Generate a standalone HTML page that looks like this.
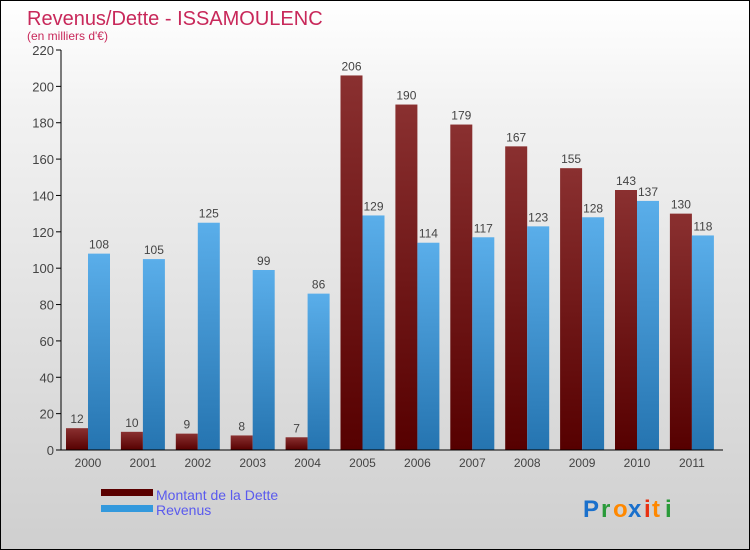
<!DOCTYPE html>
<html><head><meta charset="utf-8"><style>
body{margin:0}
#c{position:relative;width:748px;height:548px;border:1px solid #000;background:linear-gradient(#fff,#f2f2f2 20%,#cfcfcf);font-family:"Liberation Sans",sans-serif;overflow:hidden}
</style></head><body>
<div id="c">
<svg id="s" width="748" height="548">
<defs>
<linearGradient id="gd" x1="0" y1="0" x2="0" y2="1"><stop offset="0" stop-color="#8a3030"/><stop offset="1" stop-color="#560000"/></linearGradient>
<linearGradient id="gr" x1="0" y1="0" x2="0" y2="1"><stop offset="0" stop-color="#5aaeea"/><stop offset="1" stop-color="#2574b0"/></linearGradient>
</defs>
<text x="26" y="24" font-size="20" fill="#c8285a">Revenus/Dette - ISSAMOULENC</text>
<text x="26" y="39" font-size="12" fill="#c8285a">(en milliers d'€)</text>
<g id="plot"></g>
<rect x="100" y="488" width="52" height="7" fill="#5a0000"/>
<text x="155" y="499" font-size="14" fill="#5a5aee">Montant de la Dette</text>
<rect x="100" y="504" width="52" height="7" fill="#3399dd"/>
<text x="155" y="514" font-size="14" fill="#5a5aee">Revenus</text>
<g font-size="24" font-weight="bold">
<text x="582" y="516" fill="#1a70cc">P</text><text x="600" y="516" fill="#2a9a3a">r</text><text x="612" y="516" fill="#ff8800">o</text><text x="627" y="516" fill="#1a70cc">x</text><text x="643" y="516" fill="#e83010">i</text><text x="651" y="516" fill="#ff8800">t</text><text x="664" y="516" fill="#2a9a3a">i</text>
</g>
</svg>
</div>
<script>
const years=["2000","2001","2002","2003","2004","2005","2006","2007","2008","2009","2010","2011"];
const dette=[12,10,9,8,7,206,190,179,167,155,143,130];
const revenus=[108,105,125,99,86,129,114,117,123,128,137,118];
const ticks=[0,20,40,60,80,100,120,140,160,180,200,220];
const NS="http://www.w3.org/2000/svg";
const g=document.getElementById('plot');
function y(v){return 449-v*400/220;}
function x(i){return 65+i*54.9;}
function mk(t,a){const e=document.createElementNS(NS,t);for(const k in a)e.setAttribute(k,a[k]);g.appendChild(e);return e;}
ticks.forEach(t=>{
 const l=mk('line',{x1:55,x2:60,y1:y(t),y2:y(t),stroke:'#000'});
 
 
 const tx=mk('text',{x:53,y:y(t)+5,'text-anchor':'end','font-size':13,fill:'#444'});
 tx.textContent=t;
 
 
});
years.forEach((yr,i)=>{
 const x0=x(i);
 const b1=mk('rect',{x:x0,y:y(dette[i]),width:22,height:y(0)-y(dette[i]),fill:'url(#gd)'});
 
 
 const b2=mk('rect',{x:x0+22,y:y(revenus[i]),width:22,height:y(0)-y(revenus[i]),fill:'url(#gr)'});
 
 
 const l1=mk('text',{x:x0+11,y:y(dette[i])-5,'text-anchor':'middle','font-size':12,fill:'#444'});
 l1.textContent=dette[i];
 
 
 const l2=mk('text',{x:x0+33,y:y(revenus[i])-5,'text-anchor':'middle','font-size':12,fill:'#444'});
 l2.textContent=revenus[i];
 
 
 const xl=mk('text',{x:x0+22,y:466,'text-anchor':'middle','font-size':12,fill:'#444'});
 xl.textContent=yr;
 
 
});
const ya=mk('line',{x1:60,x2:60,y1:y(220),y2:y(0),stroke:'#000'});


const xa=mk('line',{x1:60,x2:722,y1:y(0),y2:y(0),stroke:'#000'});


</script>
</body></html>
